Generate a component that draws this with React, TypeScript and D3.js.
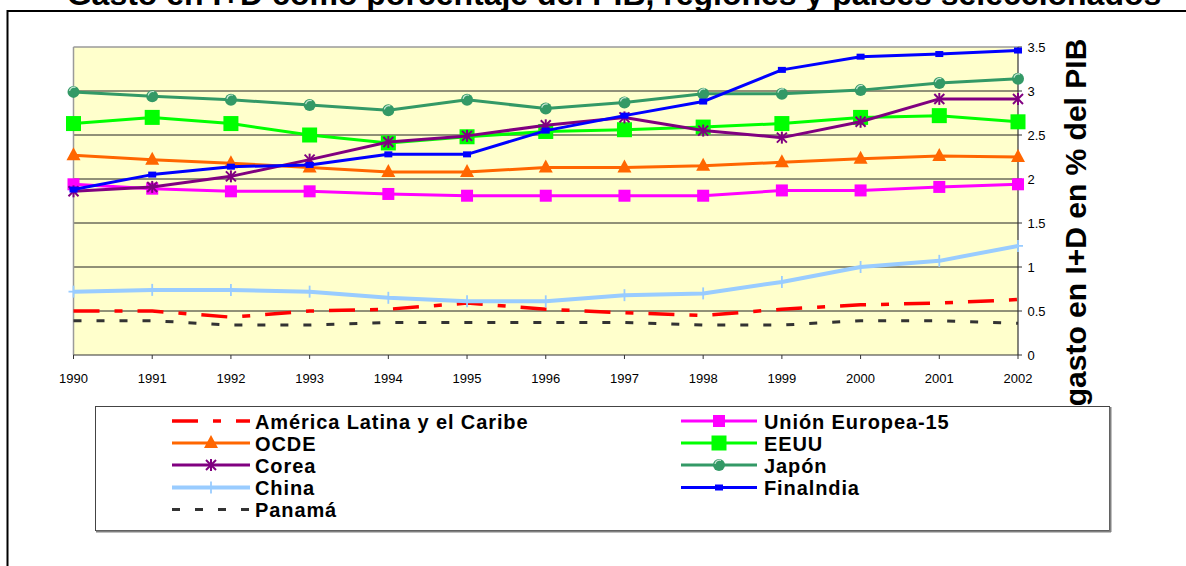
import React from "react";
import * as d3 from "d3";

const years = [1990, 1991, 1992, 1993, 1994, 1995, 1996, 1997, 1998, 1999, 2000, 2001, 2002];
const yTicks = [0, 0.5, 1, 1.5, 2, 2.5, 3, 3.5];

const americaLatina = [0.50, 0.50, 0.43, 0.50, 0.52, 0.59, 0.52, 0.48, 0.45, 0.52, 0.57, 0.59, 0.63];
const unionEuropea = [1.94, 1.89, 1.86, 1.86, 1.83, 1.81, 1.81, 1.81, 1.81, 1.87, 1.87, 1.91, 1.94];
const ocde = [2.27, 2.22, 2.18, 2.13, 2.08, 2.08, 2.13, 2.13, 2.15, 2.19, 2.23, 2.26, 2.25];
const eeuu = [2.63, 2.70, 2.63, 2.50, 2.41, 2.48, 2.54, 2.56, 2.59, 2.63, 2.70, 2.72, 2.65];
const corea = [1.86, 1.91, 2.03, 2.22, 2.42, 2.49, 2.61, 2.70, 2.55, 2.47, 2.65, 2.91, 2.91];
const japon = [2.99, 2.94, 2.90, 2.84, 2.78, 2.90, 2.80, 2.87, 2.97, 2.97, 3.01, 3.09, 3.14];
const china = [0.72, 0.74, 0.74, 0.72, 0.65, 0.61, 0.61, 0.68, 0.70, 0.83, 1.00, 1.07, 1.24];
const finlandia = [1.88, 2.05, 2.14, 2.16, 2.28, 2.28, 2.55, 2.72, 2.88, 3.24, 3.39, 3.42, 3.46];
const panama = [0.39, 0.39, 0.34, 0.34, 0.37, 0.37, 0.37, 0.37, 0.34, 0.34, 0.39, 0.39, 0.36];

type Marker = "none" | "square" | "bigsquare" | "triangle" | "star" | "circle" | "plus" | "small";
interface Series { name: string; values: number[]; color: string; width: number; dash?: string; marker: Marker; }

const series: Series[] = [
  { name: "América Latina y el Caribe", values: americaLatina, color: "#FF0000", width: 3.5, dash: "26,15,8,15", marker: "none" },
  { name: "Unión Europea-15", values: unionEuropea, color: "#FF00FF", width: 3, marker: "square" },
  { name: "OCDE", values: ocde, color: "#FF6600", width: 3, marker: "triangle" },
  { name: "EEUU", values: eeuu, color: "#00FF00", width: 3, marker: "bigsquare" },
  { name: "Corea", values: corea, color: "#800080", width: 3, marker: "star" },
  { name: "Japón", values: japon, color: "#339966", width: 3, marker: "circle" },
  { name: "China", values: china, color: "#99CCFF", width: 4, marker: "plus" },
  { name: "Finalndia", values: finlandia, color: "#0000FF", width: 3, marker: "small" },
  { name: "Panamá", values: panama, color: "#333333", width: 3, dash: "8,15", marker: "none" },
];

const legendCol1 = ["América Latina y el Caribe", "OCDE", "Corea", "China", "Panamá"];
const legendCol2 = ["Unión Europea-15", "EEUU", "Japón", "Finalndia"];

function MarkerShape({ m, x, y, color }: { m: Marker; x: number; y: number; color: string }) {
  switch (m) {
    case "square":
      return <rect x={x - 6} y={y - 6} width={12} height={12} fill={color} />;
    case "bigsquare":
      return <rect x={x - 7.5} y={y - 7.5} width={15} height={15} fill={color} />;
    case "small":
      return <rect x={x - 4} y={y - 3} width={8} height={6} fill={color} />;
    case "triangle":
      return <path d={`M${x},${y - 8} L${x + 7},${y + 5} L${x - 7},${y + 5} Z`} fill={color} />;
    case "star":
      return (
        <g stroke={color} strokeWidth={2}>
          <line x1={x - 5} y1={y - 5} x2={x + 5} y2={y + 5} />
          <line x1={x - 5} y1={y + 5} x2={x + 5} y2={y - 5} />
          <line x1={x} y1={y - 6} x2={x} y2={y + 6} />
        </g>
      );
    case "circle":
      return (
        <g>
          <circle cx={x} cy={y} r={6} fill={color} />
          <path d={`M${x - 4},${y - 1} A4.5,4.5 0 0 1 ${x + 2},${y - 4.5}`} stroke="#c8e6d4" strokeWidth={1.2} fill="none" />
        </g>
      );
    case "plus":
      return (
        <g stroke={color} strokeWidth={1.8}>
          <line x1={x} y1={y - 6} x2={x} y2={y + 6} />
          <line x1={x - 5} y1={y} x2={x + 5} y2={y} />
        </g>
      );
    default:
      return null;
  }
}

export default function App() {
  const W = 1186, H = 566;
  const x = d3.scaleLinear().domain([1990, 2002]).range([73.5, 1018]);
  const y = d3.scaleLinear().domain([0, 3.5]).range([355, 47]);
  const line = d3.line<number>().x((_, i) => x(years[i])).y((v) => y(v));
  const font = "Arial, 'Liberation Sans', Helvetica, sans-serif";
  const byName = (n: string) => series.find((s) => s.name === n)!;
  const rowY = [421, 443, 465, 487.5, 509.5];

  const legendItem = (s: Series, lx0: number, lx1: number, tx: number, cy: number) => (
    <g key={s.name}>
      <line x1={lx0} x2={lx1} y1={cy} y2={cy} stroke={s.color} strokeWidth={s.width} strokeDasharray={s.dash} />
      <MarkerShape m={s.marker} x={(lx0 + lx1) / 2} y={cy} color={s.color} />
      <text x={tx} y={cy + 7.5} fontSize={20} fontWeight="bold" fontFamily={font} letterSpacing={0.9} fill="#000">{s.name}</text>
    </g>
  );

  return (
    <svg width={W} height={H} style={{ position: "absolute", left: 0, top: 0, background: "#fff" }} fontFamily={font}>
      {/* outer frame */}
      <line x1={7.5} x2={W} y1={11} y2={11} stroke="#000" strokeWidth={2} />
      <line x1={7.5} x2={7.5} y1={10} y2={H} stroke="#000" strokeWidth={2} />
      {/* title */}
      <text x={614} y={5} textAnchor="middle" fontSize={32} fontWeight="bold" fill="#000">
        Gasto en I+D como porcentaje del PIB, regiones y países seleccionados
      </text>
      {/* plot area */}
      <rect x={x(1990)} y={y(3.5)} width={x(2002) - x(1990)} height={y(0) - y(3.5)} fill="#FFFFCC" />
      {yTicks.filter((t) => t > 0 && t < 3.5).map((t) => (
        <line key={t} x1={x(1990)} x2={x(2002)} y1={y(t)} y2={y(t)} stroke="#222" strokeWidth={1} />
      ))}
      <line x1={x(1990)} x2={x(2002)} y1={y(3.5)} y2={y(3.5)} stroke="#9a9a9a" strokeWidth={1.5} />
      <line x1={x(1990)} x2={x(1990)} y1={y(3.5)} y2={y(0)} stroke="#9a9a9a" strokeWidth={1.5} />
      {/* x axis */}
      <line x1={x(1990)} x2={x(2002)} y1={y(0)} y2={y(0)} stroke="#333" strokeWidth={1.2} />
      {years.map((yr) => (
        <g key={yr}>
          <line x1={x(yr)} x2={x(yr)} y1={y(0)} y2={y(0) + 4} stroke="#333" strokeWidth={1} />
          <text x={x(yr)} y={382.5} textAnchor="middle" fontSize={13} fill="#000">{yr}</text>
        </g>
      ))}
      {/* right y axis */}
      <line x1={x(2002)} x2={x(2002)} y1={y(3.5)} y2={y(0)} stroke="#333" strokeWidth={1.2} />
      {yTicks.map((t) => (
        <g key={t}>
          <line x1={x(2002)} x2={x(2002) + 4} y1={y(t)} y2={y(t)} stroke="#333" strokeWidth={1} />
          <text x={1027.5} y={y(t) + 4.5} fontSize={13} fill="#000">{t}</text>
        </g>
      ))}
      <text transform="translate(1086,222.5) rotate(-90)" textAnchor="middle" fontSize={30} fontWeight="bold" fill="#000">
        gasto en I+D en % del PIB
      </text>
      {/* series */}
      {series.map((s) => (
        <g key={s.name}>
          <path d={line(s.values) || ""} fill="none" stroke={s.color} strokeWidth={s.width} strokeDasharray={s.dash} strokeLinejoin="round" />
          {s.values.map((v, i) => (
            <MarkerShape key={i} m={s.marker} x={x(years[i])} y={y(v)} color={s.color} />
          ))}
        </g>
      ))}
      {/* legend */}
      <rect x={95.5} y={406.5} width={1014} height={124} fill="#fff" stroke="#444" strokeWidth={1} />
      <line x1={96} x2={1111} y1={531.5} y2={531.5} stroke="#808080" strokeWidth={2} />
      <line x1={1110.5} x2={1110.5} y1={407} y2={532} stroke="#808080" strokeWidth={2} />
      {legendCol1.map((n, i) => legendItem(byName(n), 172, 250, 255, rowY[i]))}
      {legendCol2.map((n, i) => legendItem(byName(n), 681, 757, 764, rowY[i]))}
    </svg>
  );
}
